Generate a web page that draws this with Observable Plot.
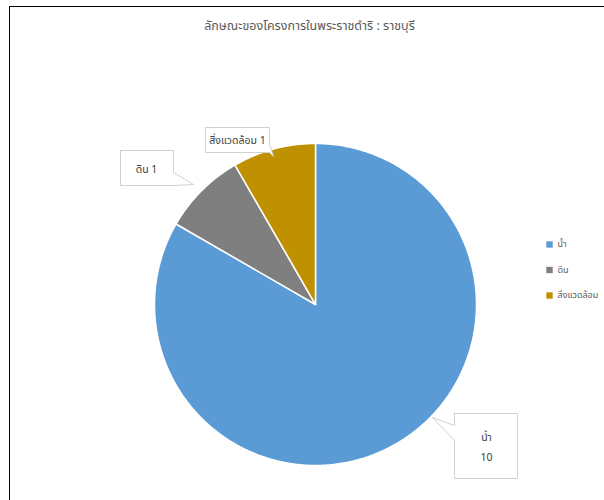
<!DOCTYPE html>
<html><head><meta charset="utf-8">
<script src="https://cdn.jsdelivr.net/npm/d3@7"></script>
<script src="https://cdn.jsdelivr.net/npm/@observablehq/plot@0.6"></script>
<style>
body{margin:0;background:#fff;overflow:hidden}
#wrap{position:relative;width:604px;height:500px}
#frame{position:absolute;left:9px;top:6px;right:-2px;bottom:-2px;border-top:1.5px solid #000;border-left:1.5px solid #000;pointer-events:none}
</style>
</head><body>
<div id="wrap"><div id="chart"></div><div id="frame"></div></div>
<script>
const title = "ลักษณะของโครงการในพระราชดำริ : ราชบุรี";
const categories = ["น้ำ", "ดิน", "สิ่งแวดล้อม"];
const values = [10, 1, 1];
const colors = ["#5B9BD5", "#7F7F7F", "#BF9000"];

const FONT = "'Noto Sans Thai','Leelawadee UI',Tahoma,'DejaVu Sans',sans-serif";
const cx = 315, cy = 304, R = 161;

const arcs = d3.pie().sort(null).value(d => d)(values);
const slicePts = [];
arcs.forEach((p, i) => {
  const n = Math.max(4, Math.ceil((p.endAngle - p.startAngle) / 0.01));
  slicePts.push({name: categories[i], x: cx, y: cy});
  for (let k = 0; k <= n; k++) {
    const a = p.startAngle + (p.endAngle - p.startAngle) * k / n;
    slicePts.push({name: categories[i], x: cx + R * Math.sin(a), y: cy - R * Math.cos(a)});
  }
  slicePts.push({name: categories[i], x: cx, y: cy});
});

// callout boxes (layout)
const callouts = [
  {name: categories[0], box: [454, 413, 517, 478], tail: "left", t1: 425, t2: 440, tip: [432, 417],
   lines: [categories[0], String(values[0])], tx: 486, ty: [437, 457]},
  {name: categories[1], box: [120, 150, 173, 185], tail: "right", t1: 172, t2: 185, tip: [193, 184],
   lines: [categories[1] + " " + values[1]], tx: 146, ty: [169]},
  {name: categories[2], box: [205, 127, 269, 152], tail: "right", t1: 143, t2: 152, tip: [273, 156],
   lines: [categories[2] + " " + values[2]], tx: 237, ty: [140]}
];
const calloutPts = [];
const calloutText = [];
callouts.forEach(c => {
  const [x1, y1, x2, y2] = c.box;
  let pts;
  if (c.tail === "left") {
    pts = [[x1, y1], [x2, y1], [x2, y2], [x1, y2], [x1, c.t2], [c.tip[0], c.tip[1]], [x1, c.t1], [x1, y1]];
  } else {
    pts = [[x1, y1], [x2, y1], [x2, c.t1], [c.tip[0], c.tip[1]], [x2, c.t2], [x2, y2], [x1, y2], [x1, y1]];
  }
  pts.forEach(([x, y]) => calloutPts.push({name: c.name, x, y}));
  c.lines.forEach((t, j) => calloutText.push({text: t, x: c.tx, y: c.ty[j]}));
});

const legend = categories.map((c, i) => ({name: c, x: 549, y: 244 + i * 25.5}));

const chart = Plot.plot({
  width: 604, height: 500, margin: 0,
  x: {domain: [0, 604], range: [0, 604], axis: null},
  y: {domain: [0, 500], range: [0, 500], axis: null},
  color: {domain: categories, range: colors},
  style: {fontFamily: FONT, background: "#fff"},
  marks: [
    Plot.line(slicePts, {x: "x", y: "y", z: "name", fill: "name", stroke: "#fff", strokeWidth: 1.5, strokeLinejoin: "round"}),
    Plot.line(calloutPts, {x: "x", y: "y", z: "name", fill: "#fff", stroke: "#d0d0d0", strokeWidth: 1}),
    Plot.text(calloutText, {x: "x", y: "y", text: "text", fontSize: 10.5, fill: "#404040", textAnchor: "middle"}),
    Plot.text([title], {x: 309, y: 25, text: d => d, fontSize: 12.5, fill: "#595959", textAnchor: "middle"}),
    Plot.dot(legend, {x: "x", y: "y", fill: "name", symbol: "square", r: 3.6, stroke: null}),
    Plot.text(legend, {x: d => d.x + 8, y: "y", text: "name", fontSize: 9, fill: "#595959", textAnchor: "start"})
  ]
});
document.getElementById("chart").appendChild(chart);
</script>
</body></html>
